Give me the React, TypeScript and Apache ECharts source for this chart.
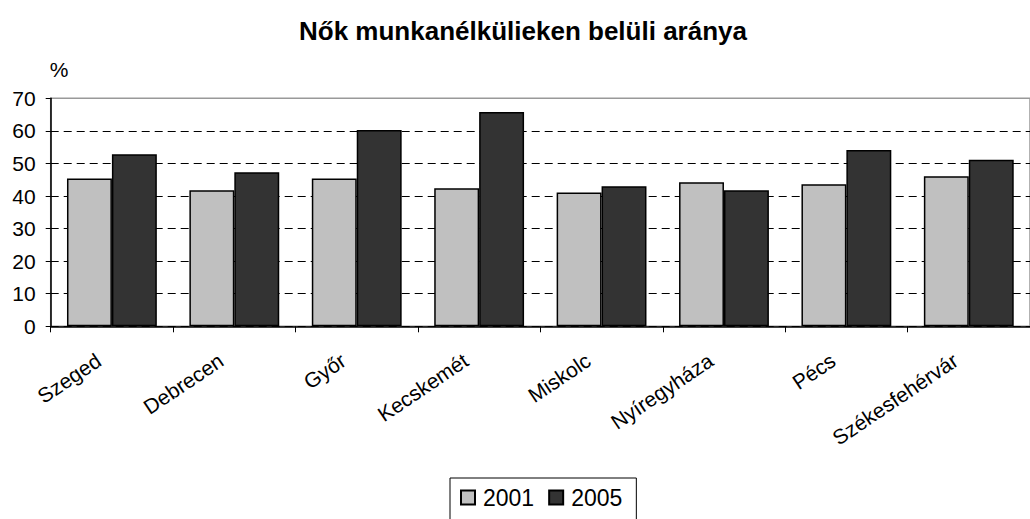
import React, { useEffect, useRef } from "react";
import * as echarts from "echarts";

const cities = ["Szeged", "Debrecen", "Győr", "Kecskemét", "Miskolc", "Nyíregyháza", "Pécs", "Székesfehérvár"];
const values2001 = [45.4, 41.8, 45.4, 42.4, 41.1, 44.2, 43.6, 46.1];
const values2005 = [52.8, 47.3, 60.3, 65.8, 43.0, 41.8, 54.1, 51.1];
const seriesNames = ["2001", "2005"];
const titleText = "Nők munkanélkülieken belüli aránya";
const unitText = "%";

const FONT = "'Liberation Sans', Arial, Helvetica, sans-serif";

export default function App() {
  const ref = useRef<HTMLDivElement>(null);
  useEffect(() => {
    if (!ref.current) return;
    const chart = echarts.init(ref.current, undefined, { renderer: "svg" });
    const barStyle = (color: string) => ({ color, borderColor: "#000", borderWidth: 1.5 });
    chart.setOption({
      animation: false,
      backgroundColor: "#fff",
      textStyle: { fontFamily: FONT, color: "#000" },
      graphic: [
        {
          type: "text",
          x: 523,
          y: 31,
          style: { text: titleText, font: `bold 26px ${FONT}`, fill: "#000", textAlign: "center", textVerticalAlign: "middle" },
        },
        {
          type: "text",
          x: 59,
          y: 69,
          style: { text: unitText, font: `21px ${FONT}`, fill: "#000", textAlign: "center", textVerticalAlign: "middle" },
        },
      ],
      grid: {
        left: 50.7,
        top: 98.3,
        right: -10.3,
        bottom: 192.7,
        show: true,
        borderColor: "#999",
        borderWidth: 1.5,
        backgroundColor: "transparent",
      },
      legend: {
        data: seriesNames,
        left: 450,
        top: 478,
        orient: "horizontal",
        itemWidth: 14,
        itemHeight: 14,
        itemGap: 14,
        icon: "rect",
        borderColor: "#000",
        borderWidth: 1,
        padding: [8, 14, 12, 10],
        textStyle: { fontSize: 23, fontFamily: FONT, color: "#000", padding: [0, 0, 0, 3] },
      },
      xAxis: {
        type: "category",
        data: cities,
        axisLine: { show: true, lineStyle: { color: "#000", width: 1.5 } },
        axisTick: { show: true, alignWithLabel: false, length: 6, lineStyle: { color: "#000", width: 1 } },
        axisLabel: {
          interval: 0,
          rotate: 34,
          fontSize: 21,
          fontFamily: FONT,
          color: "#000",
          margin: 23,
          padding: [0, 16, 0, 0],
        },
      },
      yAxis: {
        type: "value",
        min: 0,
        max: 70,
        interval: 10,
        axisLine: { show: true, lineStyle: { color: "#000", width: 1.5 } },
        axisTick: { show: true, length: 5, lineStyle: { color: "#000", width: 1 } },
        axisLabel: { fontSize: 21, fontFamily: FONT, color: "#000", margin: 15 },
        splitLine: {
          show: true,
          lineStyle: {
            color: ["#000", "#000", "#000", "#000", "#000", "#000", "#000", "transparent"],
            type: [8, 5],
            width: 1,
          },
        },
      },
      series: [
        {
          name: seriesNames[0],
          type: "bar",
          data: values2001,
          barGap: "0%",
          barCategoryGap: "26.6%",
          itemStyle: barStyle("#C0C0C0"),
        },
        {
          name: seriesNames[1],
          type: "bar",
          data: values2005,
          barGap: "0%",
          barCategoryGap: "26.6%",
          itemStyle: barStyle("#333333"),
        },
      ],
    });
    return () => chart.dispose();
  }, []);
  return <div ref={ref} style={{ position: "fixed", left: 0, top: 0, width: 1030, height: 519 }} />;
}
